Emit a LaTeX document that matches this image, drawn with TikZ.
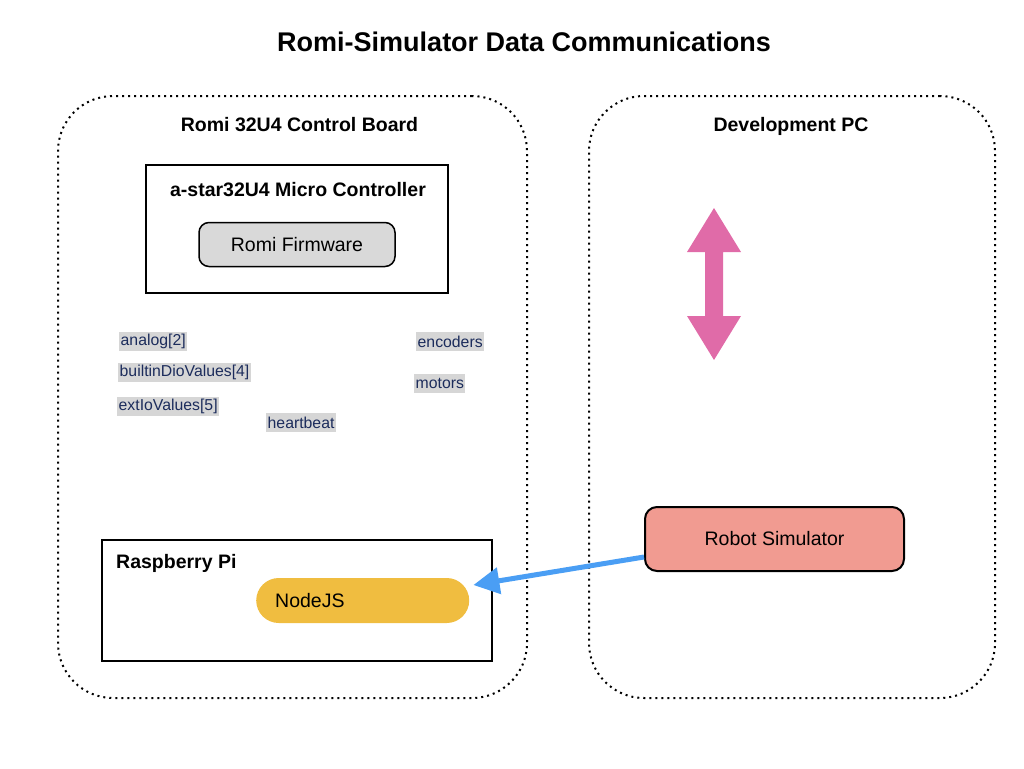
\documentclass[tikz,border=0pt]{standalone}
\usepackage{fontspec}
\setmainfont{Liberation Sans}
\usetikzlibrary{arrows.meta}

\definecolor{fwgray}{HTML}{D9D9D9}
\definecolor{siggray}{HTML}{D6D6D6}
\definecolor{signavy}{HTML}{1C2C5C}
\definecolor{simred}{HTML}{F19B91}
\definecolor{nodeyellow}{HTML}{F0BD40}
\definecolor{linkblue}{HTML}{4A9EF4}
\definecolor{pcpink}{HTML}{E06BA8}

\begin{document}
\begin{tikzpicture}[x=1pt,y=-1pt,
  heading/.style={font=\fontsize{19.5}{23}\selectfont\bfseries, inner sep=0pt},
  plain/.style={font=\fontsize{19.5}{23}\selectfont},
  board/.style={rectangle, draw=black, line width=2pt, dash pattern=on 2pt off 4pt, rounded corners=55pt, minimum height=602pt},
  chip/.style={rectangle, draw=black, line width=2pt},
  sig/.style={rectangle, fill=siggray, text=signavy, font=\fontsize{15.8}{19}\selectfont, inner xsep=1.5pt, inner ysep=0pt, minimum height=19pt, anchor=west}]
\useasboundingbox (0,0) rectangle (1024,768);

\node[font=\fontsize{27}{32}\selectfont\bfseries, anchor=base, inner sep=0pt](title) at (524,52) {Romi-Simulator Data Communications};

% the two dotted groups
\node[board, minimum width=469pt](romi) at (292.5,397) {};
\node[board, minimum width=406pt](devpc) at (792,397) {};
\node[heading, anchor=base](romititle) at ([xshift=7pt, yshift=-36pt]romi.north) {Romi 32U4 Control Board};
\node[heading, anchor=base](devpctitle) at ([xshift=-1pt, yshift=-36pt]devpc.north) {Development PC};

% micro controller
\node[chip, minimum width=302pt, minimum height=128pt](astar) at (297,229) {};
\node[heading, anchor=base](astartitle) at ([xshift=1pt, yshift=-32pt]astar.north) {a-star32U4 Micro Controller};
\node[plain, rectangle, draw=black, line width=1.5pt, fill=fwgray, rounded corners=10pt, minimum width=196pt, minimum height=44pt](firmware) at (297,244.5) {Romi Firmware};

% data values
\node[sig](analog) at (119,341.5) {analog[2]};
\node[sig](builtin) at (118,372.5) {builtinDioValues[4]};
\node[sig](extio) at (117,406.5) {extIoValues[5]};
\node[sig](heartbeat) at (266,422.5) {heartbeat};
\node[sig](encoders) at (416,341.5) {encoders};
\node[sig](motors) at (414,383.5) {motors};

% raspberry pi
\node[chip, minimum width=390pt, minimum height=121pt](rpi) at (297,600.5) {};
\node[heading, anchor=base west](rpititle) at ([xshift=15pt, yshift=-29pt]rpi.north west) {Raspberry Pi};
\node[plain, rectangle, fill=nodeyellow, rounded corners=22.5pt, minimum height=45pt, inner xsep=19pt, text width=175pt, anchor=west](nodejs) at (256,600.5) {NodeJS};

% simulator
\node[plain, rectangle, draw=black, line width=2pt, fill=simred, rounded corners=12pt, minimum width=259pt, minimum height=64pt](sim) at (774.5,539) {Robot Simulator};
\draw[linkblue, line width=5pt, -{Triangle[length=26pt, width=26pt]}] ([yshift=-18pt]sim.west) -- ([xshift=4pt, yshift=15.5pt]nodejs.east);

% double arrow
\fill[pcpink] (714,208) -- (741,252) -- (723,252) -- (723,316) -- (741,316) -- (714,360)
  -- (687,316) -- (705,316) -- (705,252) -- (687,252) -- cycle;
\end{tikzpicture}
\end{document}
